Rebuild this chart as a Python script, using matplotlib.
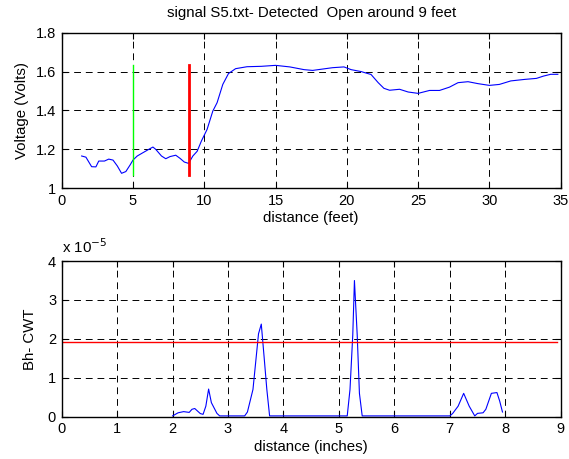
import matplotlib

matplotlib.use("Agg")
import matplotlib.pyplot as plt

plt.rcParams["font.family"] = ["Liberation Sans", "DejaVu Sans"]

# top panel: voltage along the cable (feet)
feet = [
    1.4, 1.7, 2.1, 2.4, 2.6, 3.0, 3.3, 3.6, 3.9, 4.2, 4.5, 4.8, 5.0, 5.3,
    5.7, 6.2, 6.4, 6.6, 7.0, 7.3, 7.6, 8.0, 8.3, 8.6, 8.9, 9.2, 9.5, 9.8,
    10.2, 10.6, 10.9, 11.3, 11.7, 12.2, 13.0, 14.0, 15.0, 16.0, 17.0, 17.6,
    18.0, 19.0, 19.8, 20.3, 21.0, 21.7, 22.2, 22.6, 23.0, 23.7, 24.3, 25.0,
    25.8, 26.5, 27.2, 27.8, 28.5, 29.2, 30.0, 30.7, 31.5, 32.5, 33.3, 33.8,
    34.3, 34.8,
]
volts = [
    1.166, 1.16, 1.111, 1.11, 1.14, 1.14, 1.15, 1.145, 1.115, 1.077, 1.086,
    1.12, 1.145, 1.166, 1.183, 1.204, 1.212, 1.20, 1.166, 1.152, 1.163, 1.17,
    1.154, 1.135, 1.128, 1.166, 1.19, 1.243, 1.303, 1.397, 1.44, 1.534, 1.59,
    1.615, 1.625, 1.627, 1.632, 1.624, 1.61, 1.606, 1.61, 1.62, 1.624, 1.61,
    1.60, 1.585, 1.543, 1.514, 1.504, 1.509, 1.495, 1.488, 1.503, 1.503,
    1.52, 1.543, 1.548, 1.538, 1.529, 1.534, 1.552, 1.56, 1.565, 1.577,
    1.586, 1.586,
]
marker_green = 5.0
marker_red = 8.9
marker_span = [1.07, 1.635]

# bottom panel: CWT coefficient (units of 1e-5)
inches = [
    2.0, 2.1, 2.2, 2.3, 2.35, 2.4, 2.5, 2.55, 2.6, 2.65, 2.7, 2.8, 2.85,
    3.3, 3.35, 3.45, 3.55, 3.6, 3.65, 3.7, 3.75, 5.15, 5.2, 5.25, 5.28,
    5.33, 5.37, 5.42, 7.0, 7.05, 7.15, 7.25, 7.35, 7.45, 7.5, 7.6, 7.65,
    7.75, 7.85, 7.9, 7.95,
]
cwt = [
    0.02, 0.10, 0.13, 0.11, 0.19, 0.21, 0.08, 0.06, 0.27, 0.71, 0.36, 0.085,
    0.02, 0.02, 0.12, 0.70, 2.13, 2.38, 1.55, 0.70, 0.02, 0.02, 0.70, 2.1,
    3.5, 2.1, 0.6, 0.02, 0.02, 0.08, 0.27, 0.60, 0.27, 0.02, 0.085, 0.10,
    0.19, 0.60, 0.62, 0.40, 0.12,
]
threshold = 1.91
threshold_x = [0, 8.93]

LABEL_SIZE = 10.8
TICK_SIZE = 10.5


def _style_axis(axis, xticks, yticks):
    axis.set_xticks(xticks)
    axis.set_yticks(yticks)
    axis.set_xlim(xticks[0], xticks[-1])
    axis.set_ylim(yticks[0], yticks[-1])
    axis.tick_params(
        direction="in",
        top=True,
        right=True,
        length=4,
        width=0.8,
        labelsize=TICK_SIZE,
        pad=4,
    )
    axis.grid(
        True,
        color="black",
        linestyle=(0, (7, 5)),
        linewidth=0.7,
    )
    axis.set_axisbelow(True)
    for spine in axis.spines.values():
        spine.set_linewidth(1.0)


figure = plt.figure(figsize=(5.69, 4.59), dpi=100)

top = figure.add_axes([0.1084, 0.5898, 0.877, 0.339])
top.plot(feet, volts, color="blue", linewidth=0.8)
top.plot(
    [marker_green, marker_green],
    marker_span,
    color="lime",
    linewidth=1.0,
)
top.plot(
    [marker_red, marker_red],
    marker_span,
    color="red",
    linewidth=2.0,
)
_style_axis(
    top,
    [0, 5, 10, 15, 20, 25, 30, 35],
    [1, 1.2, 1.4, 1.6, 1.8],
)
top.set_yticklabels(["1", "1.2", "1.4", "1.6", "1.8"])
top.set_xlabel("distance (feet)", fontsize=LABEL_SIZE, labelpad=2)
top.set_ylabel("Voltage (Volts)", fontsize=LABEL_SIZE, labelpad=5)
top.set_title(
    "signal S5.txt- Detected  Open around 9 feet",
    fontsize=LABEL_SIZE,
    pad=11,
)

bottom = figure.add_axes([0.1084, 0.0922, 0.877, 0.339])
bottom.plot(inches, cwt, color="blue", linewidth=0.8)
bottom.plot(
    threshold_x,
    [threshold, threshold],
    color="red",
    linewidth=1.0,
)
_style_axis(
    bottom,
    [0, 1, 2, 3, 4, 5, 6, 7, 8, 9],
    [0, 1, 2, 3, 4],
)
bottom.set_xlabel("distance (inches)", fontsize=LABEL_SIZE, labelpad=3)
bottom.set_ylabel("Bh- CWT", fontsize=LABEL_SIZE, labelpad=8)
bottom.text(
    0.0,
    1.03,
    "x 10$^{-5}$",
    transform=bottom.transAxes,
    fontsize=LABEL_SIZE,
    ha="left",
    va="bottom",
)

figure.savefig("out.png", dpi=100)
